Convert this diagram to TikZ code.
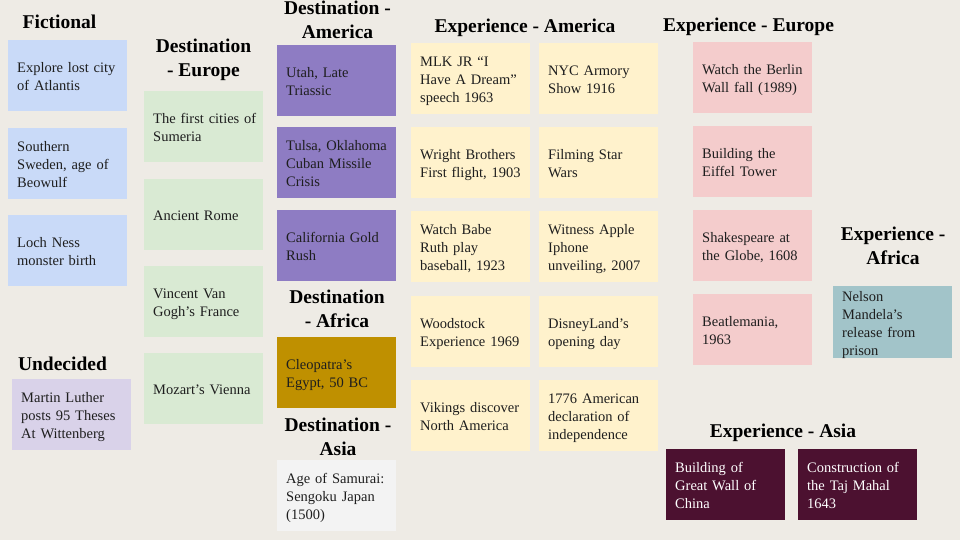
\documentclass[tikz,border=0pt]{standalone}
\usepackage{fontspec}
\setmainfont{Liberation Serif}
\definecolor{bg}{HTML}{EEEBE5}
\definecolor{cblue}{HTML}{C9DAF8}
\definecolor{cgreen}{HTML}{D9EAD3}
\definecolor{cpurple}{HTML}{8E7CC3}
\definecolor{clilac}{HTML}{D9D2E9}
\definecolor{cyellow}{HTML}{FFF2CC}
\definecolor{cpink}{HTML}{F4CCCC}
\definecolor{cteal}{HTML}{A2C4C9}
\definecolor{cgold}{HTML}{BF9000}
\definecolor{cgray}{HTML}{F3F3F3}
\definecolor{cmaroon}{HTML}{4C1130}
\definecolor{ink}{HTML}{1E1E1E}
% lines of a note, kept unbroken and flush left, set a little low in the box
\newcommand\noteLines[1]{\raisebox{-2.5pt}[\height][\depth]{\begin{tabular}{@{}l@{}}#1\end{tabular}}}
\tikzset{
  note/.style={anchor=north west, fill=#1, draw=none,
    minimum width=119pt, minimum height=71pt,
    text width=101pt, inner xsep=9pt, inner ysep=0pt, align=left,
    text=ink, font=\fontsize{14.5}{18}\selectfont},
  darknote/.style={note=#1, text=white},
  head/.style={anchor=base, align=center, inner sep=0pt, text=black,
    font=\fontsize{19.5}{24}\selectfont\bfseries},
}
\begin{document}
\begin{tikzpicture}[x=1pt,y=-1pt]
\fill[bg] (0,0) rectangle (960,540);
\useasboundingbox (0,0) rectangle (960,540);

% Fictional
\node[head] (hfic) at (59.5,28.5) {Fictional};
\node[note=cblue] (fic1) at (8,40) {\noteLines{Explore lost city\\of Atlantis}};
\node[note=cblue] (fic2) at (8,128) {\noteLines{Southern\\Sweden, age of\\Beowulf}};
\node[note=cblue] (fic3) at (8,215) {\noteLines{Loch Ness\\monster birth}};

% Undecided
\node[head] (hund) at (62.5,370) {Undecided};
\node[note=clilac] (und1) at (12,379) {\noteLines{Martin Luther\\posts 95 Theses\\At Wittenberg}};

% Destination - Europe
\node[head] (hdeu) at (203.5,77) {Destination\\- Europe};
\node[note=cgreen] (deu1) at (144,91) {\noteLines{The first cities of\\Sumeria}};
\node[note=cgreen] (deu2) at (144,179) {\noteLines{Ancient Rome}};
\node[note=cgreen] (deu3) at (144,266) {\noteLines{Vincent Van\\Gogh’s France}};
\node[note=cgreen] (deu4) at (144,353) {\noteLines{Mozart’s Vienna}};

% Destination - America
\node[head] (hdam) at (337.5,39) {Destination -\\America};
\node[note=cpurple] (dam1) at (277,45) {\noteLines{Utah, Late\\Triassic}};
\node[note=cpurple] (dam2) at (277,127) {\noteLines{Tulsa, Oklahoma\\Cuban Missile\\Crisis}};
\node[note=cpurple] (dam3) at (277,210) {\noteLines{California Gold\\Rush}};

% Destination - Africa
\node[head] (hdaf) at (337,327) {Destination\\- Africa};
\node[note=cgold] (daf1) at (277,337) {\noteLines{Cleopatra’s\\Egypt, 50 BC}};

% Destination - Asia
\node[head] (hdas) at (338,455) {Destination -\\Asia};
\node[note=cgray] (das1) at (277,460) {\noteLines{Age of Samurai:\\Sengoku Japan\\(1500)}};

% Experience - America
\node[head] (heam) at (525,33) {Experience - America};
\node[note=cyellow] (eam1) at (411,43) {\noteLines{MLK JR “I\\Have A Dream”\\speech 1963}};
\node[note=cyellow] (eam2) at (539,43) {\noteLines{NYC Armory\\Show 1916}};
\node[note=cyellow] (eam3) at (411,127) {\noteLines{Wright Brothers\\First flight, 1903}};
\node[note=cyellow] (eam4) at (539,127) {\noteLines{Filming Star\\Wars}};
\node[note=cyellow] (eam5) at (411,211) {\noteLines{Watch Babe\\Ruth play\\baseball, 1923}};
\node[note=cyellow] (eam6) at (539,211) {\noteLines{Witness Apple\\Iphone\\unveiling, 2007}};
\node[note=cyellow] (eam7) at (411,296) {\noteLines{Woodstock\\Experience 1969}};
\node[note=cyellow] (eam8) at (539,296) {\noteLines{DisneyLand’s\\opening day}};
\node[note=cyellow] (eam9) at (411,380) {\noteLines{Vikings discover\\North America}};
\node[note=cyellow] (eam10) at (539,380) {\noteLines{1776 American\\declaration of\\independence}};

% Experience - Europe
\node[head] (heeu) at (748.5,32) {Experience - Europe};
\node[note=cpink] (eeu1) at (693,42) {\noteLines{Watch the Berlin\\Wall fall (1989)}};
\node[note=cpink] (eeu2) at (693,126) {\noteLines{Building the\\Eiffel Tower}};
\node[note=cpink] (eeu3) at (693,210) {\noteLines{Shakespeare at\\the Globe, 1608}};
\node[note=cpink] (eeu4) at (693,294) {\noteLines{Beatlemania,\\1963}};

% Experience - Africa
\node[head] (heaf) at (893,264) {Experience -\\Africa};
\node[note=cteal] (eaf1) at (833,286) {\noteLines{Nelson\\Mandela’s\\release from\\prison}};

% Experience - Asia
\node[head] (heas) at (783,437) {Experience - Asia};
\node[darknote=cmaroon] (eas1) at (666,449) {\noteLines{Building of\\Great Wall of\\China}};
\node[darknote=cmaroon] (eas2) at (798,449) {\noteLines{Construction of\\the Taj Mahal\\1643}};
\end{tikzpicture}
\end{document}
